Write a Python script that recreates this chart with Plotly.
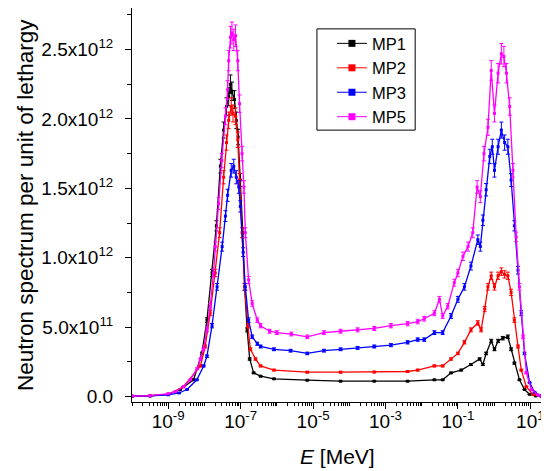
import plotly.graph_objects as go

# ---- data (log10 of E in MeV, spectrum in units of 1e12) ----
mp1_logE = [-10, -9.5, -9.0, -8.67, -8.30, -8.07, -7.93, -7.79, -7.67, -7.56, -7.47, -7.39, -7.33, -7.28,
            -7.24, -7.17, -7.12, -7.07, -7.01, -6.94, -6.89, -6.82, -6.75, -6.64, -6.45, -6.08, -5.16,
            -4.24, -3.31, -2.39, -1.65, -1.42, -1.19, -0.91, -0.64, -0.40, -0.31, -0.22, -0.08, 0.01,
            0.11, 0.24, 0.38, 0.47, 0.56, 0.70, 0.84, 0.98, 1.15, 1.3]
mp1_val = [0.002, 0.005, 0.015, 0.05, 0.12, 0.31, 0.55, 0.89, 1.23, 1.66, 1.92, 2.09, 2.16, 2.25,
           2.20, 2.14, 1.99, 1.87, 1.56, 1.18, 0.79, 0.48, 0.27, 0.17, 0.146, 0.127, 0.117,
           0.11, 0.11, 0.11, 0.12, 0.12, 0.17, 0.19, 0.23, 0.27, 0.23, 0.31, 0.40, 0.34,
           0.40, 0.42, 0.43, 0.34, 0.24, 0.12, 0.05, 0.015, 0.004, 0.002]

mp2_logE = [-10, -9.5, -9.0, -8.58, -8.11, -7.98, -7.84, -7.70, -7.58, -7.47, -7.39, -7.33, -7.26, -7.21,
            -7.14, -7.08, -7.03, -6.96, -6.89, -6.80, -6.73, -6.59, -6.45, -6.08, -5.16, -4.24, -3.31,
            -2.39, -2.11, -1.65, -1.42, -1.19, -1.0, -0.82, -0.64, -0.45, -0.36, -0.26, -0.17, -0.08,
            0.01, 0.11, 0.20, 0.29, 0.38, 0.47, 0.56, 0.66, 0.75, 0.89, 1.07, 1.3]
mp2_val = [0.002, 0.005, 0.015, 0.07, 0.22, 0.36, 0.60, 0.89, 1.18, 1.58, 1.83, 1.99, 2.09, 2.04,
           2.02, 1.85, 1.56, 1.18, 0.79, 0.51, 0.34, 0.27, 0.22, 0.19, 0.175, 0.175, 0.176,
           0.18, 0.19, 0.22, 0.22, 0.27, 0.31, 0.39, 0.48, 0.53, 0.48, 0.63, 0.79, 0.87,
           0.79, 0.87, 0.90, 0.88, 0.87, 0.75, 0.55, 0.36, 0.19, 0.07, 0.015, 0.003]

mp3_logE = [-10, -9.5, -9.0, -8.7, -8.48, -8.21, -8.02, -7.93, -7.79, -7.65, -7.51, -7.42, -7.36, -7.26,
            -7.19, -7.12, -7.05, -7.01, -6.93, -6.87, -6.78, -6.68, -6.54, -6.45, -6.08, -5.62, -5.16,
            -4.70, -4.24, -3.77, -3.31, -2.85, -2.39, -2.11, -1.93, -1.65, -1.42, -1.19, -1.0, -0.82,
            -0.64, -0.45, -0.38, -0.31, -0.22, -0.12, -0.05, 0.01, 0.11, 0.20, 0.29, 0.38, 0.47, 0.56,
            0.66, 0.75, 0.84, 0.98, 1.12, 1.3]
mp3_val = [0.002, 0.004, 0.012, 0.025, 0.05, 0.12, 0.22, 0.29, 0.51, 0.79, 1.08, 1.30, 1.45, 1.63,
           1.66, 1.58, 1.51, 1.37, 1.04, 0.79, 0.55, 0.43, 0.38, 0.36, 0.34, 0.33, 0.31,
           0.33, 0.34, 0.35, 0.36, 0.37, 0.39, 0.41, 0.41, 0.46, 0.46, 0.58, 0.70, 0.79,
           0.94, 1.13, 1.08, 1.27, 1.49, 1.73, 1.80, 1.63, 1.80, 1.92, 1.83, 1.80, 1.56, 1.23,
           0.91, 0.60, 0.31, 0.10, 0.03, 0.005]

mp5_logE = [-10.0, -9.5, -9.0, -8.8, -8.58, -8.39, -8.2, -8.11, -8.03, -7.93, -7.84, -7.75, -7.70, -7.61,
            -7.52, -7.42, -7.36, -7.33, -7.28, -7.24, -7.19, -7.14, -7.08, -7.03, -6.96, -6.91, -6.87,
            -6.78, -6.68, -6.54, -6.45, -6.2, -6.0, -5.6, -5.16, -4.7, -4.24, -3.77, -3.31, -2.85,
            -2.39, -2.11, -1.93, -1.65, -1.51, -1.42, -1.28, -1.10, -1.00, -0.86, -0.72, -0.59, -0.47,
            -0.38, -0.28, -0.17, -0.08, 0.01, 0.11, 0.20, 0.27, 0.34, 0.43, 0.52, 0.61, 0.70, 0.80,
            0.89, 1.03, 1.21, 1.3]
mp5_val = [0.003, 0.006, 0.02, 0.035, 0.07, 0.12, 0.2, 0.27, 0.34, 0.48, 0.65, 0.89, 1.08, 1.39,
           1.70, 2.02, 2.21, 2.42, 2.59, 2.62, 2.57, 2.60, 2.42, 2.11, 1.75, 1.51, 1.18,
           0.84, 0.67, 0.55, 0.51, 0.47, 0.46, 0.45, 0.43, 0.46, 0.47, 0.48, 0.49, 0.51,
           0.525, 0.54, 0.56, 0.60, 0.70, 0.58, 0.65, 0.82, 0.89, 1.01, 1.08, 1.18, 1.51,
           1.44, 1.75, 1.94, 2.35, 2.04, 2.33, 2.47, 2.45, 2.33, 2.09, 1.63, 1.15, 0.79, 0.43,
           0.17, 0.05, 0.01, 0.005]

series_names = ["MP1", "MP2", "MP3", "MP5"]
series_colors = ["#000000", "#FF0000", "#0000FF", "#FF00FF"]
series_logE = [mp1_logE, mp2_logE, mp3_logE, mp5_logE]
series_val = [mp1_val, mp2_val, mp3_val, mp5_val]
error_percent = 3

x_tick_exps = [-9, -7, -5, -3, -1, 1]
y_tick_vals = [0.0, 0.5, 1.0, 1.5, 2.0, 2.5]
y_tick_text = ["0.0", "5.0x10<sup>11</sup>", "1.0x10<sup>12</sup>", "1.5x10<sup>12</sup>",
               "2.0x10<sup>12</sup>", "2.5x10<sup>12</sup>"]
x_title = "<i>E</i> [MeV]"
y_title = "Neutron spectrum per unit of lethargy"

FONT = "Liberation Sans, Arial, sans-serif"

fig = go.Figure()
for name, col, lx, vals in zip(series_names, series_colors, series_logE, series_val):
    fig.add_trace(go.Scatter(
        x=[10 ** v for v in lx], y=vals, mode="lines+markers", name=name, showlegend=False,
        line=dict(color=col, width=1.3),
        marker=dict(symbol="square", size=3, color=col),
        error_y=dict(type="percent", value=error_percent, color=col, thickness=1, width=2),
    ))
for name, col in zip(series_names, series_colors):
    fig.add_trace(go.Scatter(
        x=[None], y=[None], mode="lines+markers", name=name, showlegend=True,
        line=dict(color=col, width=1), marker=dict(symbol="square", size=7, color=col),
    ))

minor_vals = [k * 10.0 ** n for n in range(-10, 2) for k in range(1, 10)]

# The page body adds an 8 px offset, so the figure is 8 px smaller and margins compensate.
fig.update_layout(
    width=541, height=463,
    margin=dict(l=124, r=6, t=0, b=69),
    plot_bgcolor="white", paper_bgcolor="white",
    font=dict(family=FONT, color="black", size=19),
    legend=dict(x=0.4865, y=0.954, xanchor="left", yanchor="top",
                borderwidth=0, bgcolor="rgba(0,0,0,0)",
                font=dict(size=16.5, family=FONT), tracegroupgap=0),
    shapes=[dict(type="rect", xref="paper", yref="paper", x0=0.450, x1=0.689, y0=0.690, y1=0.947,
                 line=dict(color="black", width=1), fillcolor="rgba(0,0,0,0)", layer="above")],
    annotations=[
        dict(text=y_title, xref="paper", yref="paper", x=-0.2603, y=0.5, xanchor="center",
             yanchor="middle", textangle=-90, showarrow=False, font=dict(size=22.5)),
        dict(text=x_title, xref="paper", yref="paper", x=0.5, y=-0.104, xanchor="center",
             yanchor="top", showarrow=False, font=dict(size=21)),
    ],
    xaxis=dict(
        type="log", range=[-10, 1.35], showline=True, linecolor="black", linewidth=1,
        mirror=False, showgrid=False, zeroline=False, automargin=False,
        ticks="outside", ticklen=6, tickcolor="black", ticklabelstandoff=-4,
        tickvals=[10.0 ** e for e in x_tick_exps],
        ticktext=["10<sup>%d</sup>" % e for e in x_tick_exps],
        tickfont=dict(size=19),
        minor=dict(ticks="outside", ticklen=3, tickcolor="black", tickmode="array",
                   tickvals=minor_vals, showgrid=False),
    ),
    yaxis=dict(
        range=[-0.04, 2.8], showline=True, linecolor="black", linewidth=1,
        mirror=False, showgrid=False, zeroline=False, automargin=False,
        ticks="outside", ticklen=6, tickcolor="black", ticklabelstandoff=8,
        tickvals=y_tick_vals, ticktext=y_tick_text, tickfont=dict(size=19),
        minor=dict(ticks="outside", ticklen=4, tickcolor="black", dtick=0.25, tick0=0, showgrid=False),
    ),
)

fig.write_html("out.html")
